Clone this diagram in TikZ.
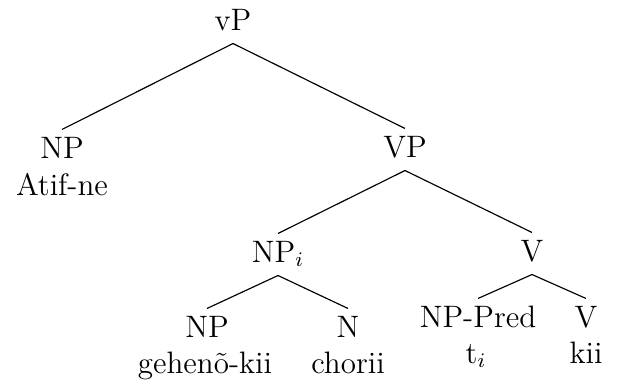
\documentclass[tikz,border=0pt]{standalone}
\usepackage{tikz}
\begin{document}
\begin{tikzpicture}[x=0.387pt,y=-0.387pt,
  cat/.style={inner sep=0pt, anchor=base, text height=10.84pt, text depth=5.03pt,
              font=\fontsize{12}{14.5}\selectfont},
  word/.style={inner sep=0pt, anchor=base, font=\fontsize{12}{14.5}\selectfont},
  branch/.style={line width=0.45pt}]
\useasboundingbox (0,0) rectangle (618,384);

% category labels
\node[cat] (vP)    at (233,30)  {vP};
\node[cat] (NPa)   at (62,158)  {NP};
\node[cat] (VP)    at (405,157) {VP};
\node[cat] (NPi)   at (278,262) {NP$_i$};
\node[cat] (Vbar)  at (532,261) {V};
\node[cat] (NPb)   at (207,337) {NP};
\node[cat] (N)     at (348,337) {N};
\node[cat] (NPred) at (478,327) {NP-Pred};
\node[cat] (V)     at (586,327) {V};

% lexical items
\node[word] (atif)   at (62,195)  {Atif-ne};
\node[word] (gehen)  at (205,373) {gehenõ-kii};
\node[word] (chorii) at (348,373) {chorii};
\node[word] (trace)  at (476,363) {t$_i$};
\node[word] (kii)    at (586,363) {kii};

% branches
\draw[branch] (vP.south) -- (NPa.north);
\draw[branch] (vP.south) -- (VP.north);
\draw[branch] (VP.south) -- (NPi.north);
\draw[branch] (VP.south) -- (Vbar.north);
\draw[branch] (NPi.south) -- (NPb.north);
\draw[branch] (NPi.south) -- (N.north);
\draw[branch] (Vbar.south) -- (NPred.north);
\draw[branch] (Vbar.south) -- (V.north);
\end{tikzpicture}
\end{document}
